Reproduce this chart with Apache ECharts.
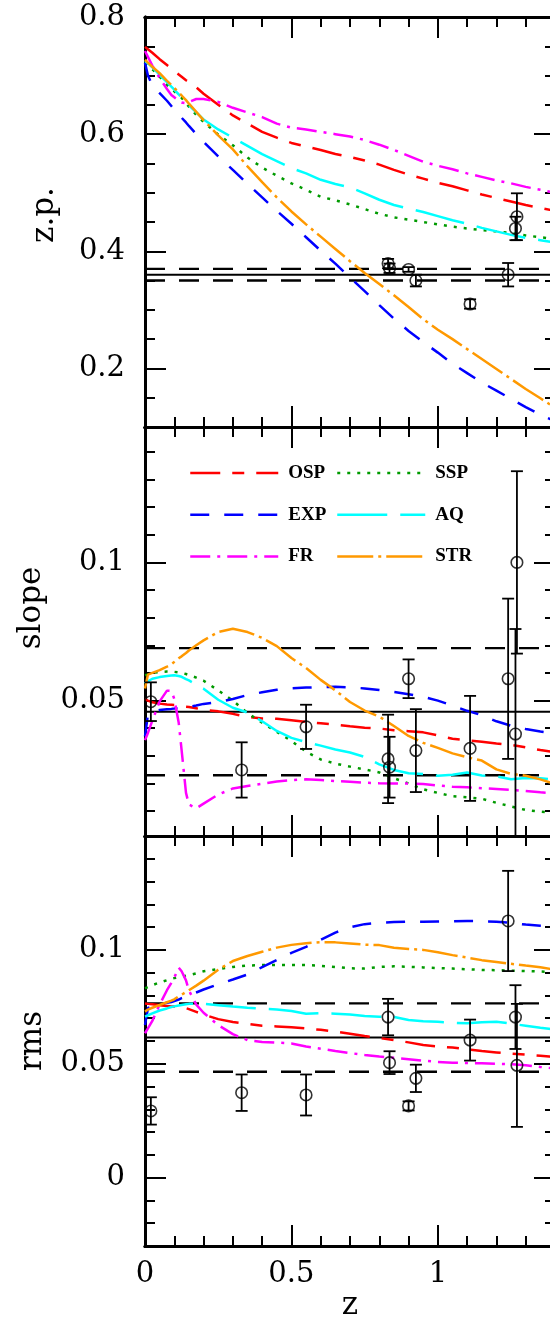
<!DOCTYPE html>
<html>
<head>
<meta charset="utf-8">
<script src="https://cdn.jsdelivr.net/npm/echarts@6/dist/echarts.min.js"></script>
<style>
  html, body { margin: 0; padding: 0; overflow: hidden; background: #fff; width: 550px; height: 1323px; }
  #chart { width: 560px; height: 1323px; }
</style>
</head>
<body>
<div id="chart"></div>
<script>
// Redshift sampling shared by all model curves
const zGrid = [0, 0.01, 0.025, 0.05, 0.075, 0.09, 0.1, 0.115, 0.125, 0.14, 0.15, 0.175, 0.2,
  0.25, 0.3, 0.35, 0.4, 0.45, 0.5, 0.55, 0.6, 0.65, 0.7, 0.75, 0.8, 0.85, 0.9, 0.95, 1.0,
  1.05, 1.1, 1.15, 1.2, 1.25, 1.3, 1.35, 1.4];

// Zero point of the relation, per model
const zpOSP = [0.749, 0.745, 0.739, 0.728, 0.718, 0.712, 0.708, 0.702, 0.698, 0.692, 0.689, 0.680, 0.669, 0.650, 0.632, 0.618, 0.604, 0.594, 0.585, 0.579, 0.573, 0.566, 0.561, 0.555, 0.548, 0.539, 0.531, 0.524, 0.517, 0.511, 0.504, 0.497, 0.491, 0.485, 0.479, 0.474, 0.469];
const zpEXP = [0.722, 0.700, 0.683, 0.670, 0.657, 0.648, 0.642, 0.634, 0.628, 0.620, 0.614, 0.600, 0.587, 0.562, 0.539, 0.515, 0.492, 0.469, 0.447, 0.424, 0.401, 0.379, 0.355, 0.332, 0.308, 0.285, 0.264, 0.245, 0.227, 0.208, 0.192, 0.176, 0.162, 0.148, 0.134, 0.121, 0.110];
const zpFR  = [0.742, 0.732, 0.717, 0.696, 0.677, 0.667, 0.663, 0.657, 0.654, 0.653, 0.655, 0.660, 0.660, 0.655, 0.645, 0.637, 0.629, 0.618, 0.611, 0.608, 0.604, 0.600, 0.596, 0.590, 0.582, 0.573, 0.563, 0.553, 0.546, 0.540, 0.533, 0.527, 0.521, 0.516, 0.510, 0.505, 0.500];
const zpSSP = [0.722, 0.717, 0.711, 0.698, 0.684, 0.677, 0.673, 0.666, 0.662, 0.653, 0.647, 0.633, 0.621, 0.599, 0.581, 0.560, 0.543, 0.529, 0.516, 0.505, 0.493, 0.487, 0.480, 0.472, 0.464, 0.458, 0.454, 0.450, 0.446, 0.442, 0.439, 0.436, 0.434, 0.431, 0.427, 0.424, 0.421];
const zpAQ  = [0.725, 0.721, 0.714, 0.701, 0.689, 0.681, 0.676, 0.668, 0.662, 0.654, 0.649, 0.637, 0.625, 0.608, 0.594, 0.580, 0.566, 0.554, 0.542, 0.533, 0.522, 0.515, 0.509, 0.499, 0.488, 0.479, 0.473, 0.467, 0.460, 0.453, 0.447, 0.440, 0.434, 0.428, 0.423, 0.419, 0.415];
const zpSTR = [0.727, 0.722, 0.715, 0.704, 0.691, 0.684, 0.679, 0.671, 0.666, 0.658, 0.652, 0.638, 0.624, 0.598, 0.574, 0.545, 0.518, 0.492, 0.468, 0.446, 0.425, 0.404, 0.383, 0.363, 0.344, 0.325, 0.305, 0.284, 0.266, 0.250, 0.233, 0.216, 0.199, 0.182, 0.165, 0.149, 0.133];

// Slope of the relation, per model
const slopeOSP = [0.0505, 0.0500, 0.0494, 0.0489, 0.0486, 0.0485, 0.0484, 0.0482, 0.0480, 0.0478, 0.0477, 0.0472, 0.0467, 0.0461, 0.0452, 0.0441, 0.0435, 0.0434, 0.0429, 0.0423, 0.0418, 0.0413, 0.0407, 0.0402, 0.0399, 0.0393, 0.0389, 0.0385, 0.0374, 0.0362, 0.0356, 0.0351, 0.0345, 0.0340, 0.0331, 0.0321, 0.0313];
const slopeEXP = [0.0370, 0.0450, 0.0460, 0.0466, 0.0469, 0.0470, 0.0471, 0.0473, 0.0474, 0.0476, 0.0477, 0.0482, 0.0488, 0.0494, 0.0506, 0.0520, 0.0530, 0.0539, 0.0544, 0.0547, 0.0549, 0.0550, 0.0548, 0.0544, 0.0538, 0.0531, 0.0523, 0.0514, 0.0500, 0.0482, 0.0463, 0.0447, 0.0425, 0.0409, 0.0397, 0.0388, 0.0381];
const slopeFR  = [0.0357, 0.0383, 0.0427, 0.0497, 0.0536, 0.0535, 0.0506, 0.0421, 0.0321, 0.0166, 0.0124, 0.0110, 0.0127, 0.0160, 0.0182, 0.0191, 0.0199, 0.0207, 0.0212, 0.0215, 0.0213, 0.0209, 0.0206, 0.0203, 0.0201, 0.0200, 0.0200, 0.0198, 0.0193, 0.0188, 0.0186, 0.0183, 0.0180, 0.0177, 0.0173, 0.0168, 0.0165];
const slopeSSP = [0.0592, 0.0595, 0.0600, 0.0604, 0.0605, 0.0605, 0.0604, 0.0602, 0.0600, 0.0596, 0.0593, 0.0583, 0.0572, 0.0537, 0.0500, 0.0455, 0.0420, 0.0387, 0.0354, 0.0315, 0.0287, 0.0272, 0.0261, 0.0251, 0.0240, 0.0219, 0.0200, 0.0179, 0.0166, 0.0154, 0.0150, 0.0145, 0.0130, 0.0117, 0.0104, 0.0098, 0.0093];
const slopeAQ  = [0.0562, 0.0570, 0.0579, 0.0585, 0.0589, 0.0591, 0.0592, 0.0589, 0.0586, 0.0578, 0.0573, 0.0558, 0.0543, 0.0503, 0.0474, 0.0457, 0.0425, 0.0390, 0.0365, 0.0350, 0.0337, 0.0323, 0.0312, 0.0296, 0.0269, 0.0249, 0.0237, 0.0234, 0.0228, 0.0232, 0.0240, 0.0229, 0.0226, 0.0215, 0.0220, 0.0219, 0.0213];
const slopeSTR = [0.0544, 0.0594, 0.0600, 0.0610, 0.0623, 0.0631, 0.0640, 0.0653, 0.0660, 0.0672, 0.0681, 0.0700, 0.0718, 0.0748, 0.0760, 0.0748, 0.0727, 0.0697, 0.0654, 0.0618, 0.0575, 0.0537, 0.0495, 0.0464, 0.0442, 0.0408, 0.0372, 0.0347, 0.0329, 0.0309, 0.0295, 0.0283, 0.0251, 0.0235, 0.0228, 0.0215, 0.0198];

// Scatter (rms) about the relation, per model
const rmsOSP = [0.0765, 0.0763, 0.0761, 0.0757, 0.0754, 0.0752, 0.0751, 0.0749, 0.0747, 0.0744, 0.0740, 0.0728, 0.0716, 0.0696, 0.0683, 0.0675, 0.0667, 0.0664, 0.0660, 0.0655, 0.0649, 0.0642, 0.0632, 0.0622, 0.0613, 0.0604, 0.0594, 0.0582, 0.0576, 0.0571, 0.0564, 0.0556, 0.0550, 0.0544, 0.0540, 0.0535, 0.0530];
const rmsEXP = [0.0670, 0.0745, 0.0752, 0.0761, 0.0768, 0.0771, 0.0775, 0.0782, 0.0788, 0.0795, 0.0800, 0.0813, 0.0826, 0.0849, 0.0870, 0.0892, 0.0924, 0.0956, 0.0987, 0.1013, 0.1044, 0.1076, 0.1099, 0.1113, 0.1119, 0.1122, 0.1124, 0.1124, 0.1125, 0.1126, 0.1127, 0.1126, 0.1124, 0.1119, 0.1111, 0.1106, 0.1101];
const rmsFR  = [0.0634, 0.0655, 0.0688, 0.0760, 0.0823, 0.0855, 0.0879, 0.0922, 0.0906, 0.0866, 0.0822, 0.0760, 0.0724, 0.0670, 0.0630, 0.0604, 0.0596, 0.0593, 0.0589, 0.0576, 0.0566, 0.0556, 0.0547, 0.0539, 0.0532, 0.0526, 0.0520, 0.0514, 0.0508, 0.0505, 0.0503, 0.0502, 0.0500, 0.0498, 0.0494, 0.0486, 0.0479];
const rmsSSP = [0.0831, 0.0837, 0.0845, 0.0857, 0.0867, 0.0873, 0.0876, 0.0880, 0.0883, 0.0887, 0.0889, 0.0897, 0.0906, 0.0916, 0.0925, 0.0931, 0.0934, 0.0934, 0.0934, 0.0934, 0.0930, 0.0925, 0.0919, 0.0918, 0.0925, 0.0928, 0.0926, 0.0923, 0.0920, 0.0918, 0.0915, 0.0912, 0.0911, 0.0909, 0.0907, 0.0905, 0.0903];
const rmsAQ  = [0.0707, 0.0713, 0.0721, 0.0734, 0.0743, 0.0749, 0.0752, 0.0756, 0.0758, 0.0761, 0.0763, 0.0763, 0.0763, 0.0757, 0.0751, 0.0746, 0.0742, 0.0738, 0.0732, 0.0720, 0.0722, 0.0720, 0.0716, 0.0710, 0.0707, 0.0706, 0.0692, 0.0687, 0.0684, 0.0680, 0.0678, 0.0682, 0.0685, 0.0676, 0.0667, 0.0658, 0.0650];
const rmsSTR = [0.0729, 0.0738, 0.0746, 0.0758, 0.0770, 0.0777, 0.0783, 0.0796, 0.0803, 0.0815, 0.0823, 0.0843, 0.0865, 0.0913, 0.0951, 0.0973, 0.0992, 0.1010, 0.1022, 0.1029, 0.1034, 0.1033, 0.1028, 0.1023, 0.1021, 0.1009, 0.1004, 0.1000, 0.0990, 0.0977, 0.0966, 0.0955, 0.0947, 0.0939, 0.0931, 0.0924, 0.0913];

// Observed clusters: redshift, measured values and 1-sigma errors
const zObs     = [0.02, 0.33, 0.55, 0.83, 0.835, 0.90, 0.925, 1.11, 1.24, 1.265, 1.27];
const zpObs    = [null, null, null, 0.379, 0.371, 0.369, 0.350, 0.310, 0.360, 0.439, 0.459];
const zpErr    = [null, null, null, 0.008, 0.008, 0.004, 0.010, 0.008, 0.020, 0.020, 0.040];
const slopeObs = [0.0496, 0.0249, 0.0405, 0.0289, 0.0259, 0.0579, 0.0319, 0.0327, 0.0579, 0.0379, 0.1000];
const slopeErr = [0.007, 0.010, 0.008, 0.016, 0.011, 0.007, 0.015, 0.019, 0.029, 0.038, 0.033];
const rmsObs   = [0.0293, 0.0373, 0.0363, 0.0705, 0.0505, 0.0315, 0.0436, 0.0604, 0.1127, 0.0705, 0.0493];
const rmsErr   = [0.006, 0.008, 0.009, 0.008, 0.005, 0.002, 0.006, 0.009, 0.022, 0.014, 0.027];

// Local (z = 0) reference: mean and its band
const zpRef    = { mean: 0.36,   lo: 0.35,   hi: 0.37 };
const slopeRef = { mean: 0.046,  lo: 0.023,  hi: 0.069 };
const rmsRef   = { mean: 0.0615, lo: 0.0465, hi: 0.0765 };

// Axis extents and tick values
const zMin = 0, zMax = 1.4;
const zMajorTicks = [0, 0.5, 1];
const zMinorTicks = [0.1, 0.2, 0.3, 0.4, 0.6, 0.7, 0.8, 0.9, 1.1, 1.2, 1.3];
const panelNames = ['z.p.', 'slope', 'rms'];
const yRanges = [[0.1, 0.8], [0.001, 0.149], [-0.03, 0.15]];
const yMajorTicks = [[0.2, 0.4, 0.6, 0.8], [0.05, 0.1], [0, 0.05, 0.1]];
const yMinorTicks = [
  [0.15, 0.25, 0.3, 0.35, 0.45, 0.5, 0.55, 0.65, 0.7, 0.75],
  [0.01, 0.02, 0.03, 0.04, 0.06, 0.07, 0.08, 0.09, 0.11, 0.12, 0.13, 0.14],
  [-0.02, -0.01, 0.01, 0.02, 0.03, 0.04, 0.06, 0.07, 0.08, 0.09, 0.11, 0.12, 0.13, 0.14]
];

// Model styles
const models = [
  { name: 'OSP', color: '#ff0000', dash: [30, 12, 12, 12], vals: [zpOSP, slopeOSP, rmsOSP] },
  { name: 'SSP', color: '#009a00', dash: [3, 7],           vals: [zpSSP, slopeSSP, rmsSSP] },
  { name: 'EXP', color: '#0000ff', dash: [19, 15],         vals: [zpEXP, slopeEXP, rmsEXP] },
  { name: 'AQ',  color: '#00ffff', dash: [50, 13],         vals: [zpAQ, slopeAQ, rmsAQ] },
  { name: 'FR',  color: '#ff00ff', dash: [20, 7, 3, 7],    vals: [zpFR, slopeFR, rmsFR] },
  { name: 'STR', color: '#ff9900', dash: [36, 5, 3, 5],    vals: [zpSTR, slopeSTR, rmsSTR] }
];
const obs = [[zpObs, zpErr], [slopeObs, slopeErr], [rmsObs, rmsErr]];
const refs = [zpRef, slopeRef, rmsRef];

const FONT = 'DejaVu Serif';
const grids = [
  { left: 145, top: 17,  width: 410, height: 410 },
  { left: 145, top: 427, width: 410, height: 409 },
  { left: 145, top: 836, width: 410, height: 410 }
];

function makeAxis(g, pos, range, ticks, len, labels, margin) {
  return {
    type: 'value', gridIndex: g, position: pos, min: range[0], max: range[1],
    splitLine: { show: false },
    axisLine: { show: true, onZero: false, lineStyle: { color: '#000', width: 3 } },
    axisTick: { show: true, inside: true, length: len, customValues: ticks,
      lineStyle: { color: '#000', width: 2 } },
    axisLabel: labels ? {
      show: true, customValues: labels, margin: margin,
      fontFamily: FONT, fontSize: 29, color: '#000',
      formatter: v => String(+v.toFixed(4))
    } : { show: false }
  };
}

const xAxes = [], yAxes = [], series = [];
grids.forEach((gr, g) => {
  const xr = [zMin, zMax];
  xAxes.push(makeAxis(g, 'bottom', xr, zMajorTicks, 21, g === 2 ? zMajorTicks : null, 14));
  xAxes.push(makeAxis(g, 'bottom', xr, zMinorTicks, 10, null));
  xAxes.push(makeAxis(g, 'top', xr, zMajorTicks, 21, null));
  xAxes.push(makeAxis(g, 'top', xr, zMinorTicks, 10, null));
  yAxes.push(makeAxis(g, 'left', yRanges[g], yMajorTicks[g], 21, yMajorTicks[g], 20));
  yAxes.push(makeAxis(g, 'left', yRanges[g], yMinorTicks[g], 10, null));
  yAxes.push(makeAxis(g, 'right', yRanges[g], yMajorTicks[g], 21, null));
  yAxes.push(makeAxis(g, 'right', yRanges[g], yMinorTicks[g], 10, null));

  const ax = { xAxisIndex: 4 * g, yAxisIndex: 4 * g };
  const ref = refs[g];

  // reference level and band
  [['mean', 'solid', 2], ['lo', [20, 14], 2.4], ['hi', [20, 14], 2.4]].forEach(([k, type, w]) => {
    series.push(Object.assign({
      type: 'line', silent: true, symbol: 'none', z: 2,
      data: [[zMin, ref[k]], [zMax, ref[k]]],
      lineStyle: { color: '#000', width: w, type: type }
    }, ax));
  });

  // model curves
  models.forEach(m => {
    series.push(Object.assign({
      type: 'line', name: m.name, symbol: 'none', z: 3, smooth: false,
      data: zGrid.map((z, i) => [z, m.vals[g][i]]),
      lineStyle: { color: m.color, width: 2.5, type: m.dash },
      itemStyle: { color: m.color }
    }, ax));
  });

  // observed points with error bars
  const [vals, errs] = obs[g];
  const pts = [], bars = [];
  zObs.forEach((z, i) => {
    if (vals[i] == null) return;
    pts.push([z, vals[i]]);
    bars.push([z, vals[i] - errs[i], vals[i] + errs[i]]);
  });
  series.push(Object.assign({
    type: 'custom', z: 5, clip: true, silent: true,
    data: bars,
    renderItem: (params, api) => {
      const lo = api.coord([api.value(0), api.value(1)]);
      const hi = api.coord([api.value(0), api.value(2)]);
      const w = 6;
      const style = { stroke: '#000', lineWidth: 1.8 };
      return { type: 'group', children: [
        { type: 'line', shape: { x1: lo[0], y1: lo[1], x2: hi[0], y2: hi[1] }, style },
        { type: 'line', shape: { x1: lo[0] - w, y1: lo[1], x2: lo[0] + w, y2: lo[1] }, style },
        { type: 'line', shape: { x1: hi[0] - w, y1: hi[1], x2: hi[0] + w, y2: hi[1] }, style }
      ] };
    }
  }, ax));
  series.push(Object.assign({
    type: 'scatter', z: 6, silent: true, symbol: 'circle', symbolSize: 11.5,
    data: pts,
    itemStyle: { color: 'rgba(0,0,0,0)', borderColor: '#000', borderWidth: 1.6 }
  }, ax));
});

const legendText = { fontFamily: 'Liberation Serif', fontWeight: 'bold', fontSize: 19,
  color: '#000', lineHeight: 20, padding: [0, 0, 0, 5] };
const legendBase = {
  orient: 'vertical', top: 463, padding: 0, itemWidth: 88, itemHeight: 14, itemGap: 21.7,
  selectedMode: false, textStyle: legendText,
  itemStyle: { opacity: 0 }, lineStyle: { width: 2.5 }
};

const nameStyle = { fontFamily: FONT, fontSize: 31, fill: '#000',
  textAlign: 'center', textVerticalAlign: 'middle', align: 'center', verticalAlign: 'middle' };

const chart = echarts.init(document.getElementById('chart'), null, { renderer: 'canvas' });
chart.setOption({
  animation: false,
  backgroundColor: '#fff',
  grid: grids,
  xAxis: xAxes,
  yAxis: yAxes,
  legend: [
    Object.assign({ left: 189, data: ['OSP', 'EXP', 'FR'] }, legendBase),
    Object.assign({ left: 336, data: ['SSP', 'AQ', 'STR'] }, legendBase)
  ],
  graphic: [
    { type: 'text', x: 45, y: 215, rotation: Math.PI / 2, style: Object.assign({ text: panelNames[0] }, nameStyle) },
    { type: 'text', x: 32, y: 608, rotation: Math.PI / 2, style: Object.assign({ text: panelNames[1] }, nameStyle) },
    { type: 'text', x: 33, y: 1041, rotation: Math.PI / 2, style: Object.assign({ text: panelNames[2] }, nameStyle) },
    { type: 'text', x: 350, y: 1306, style: Object.assign({ text: 'z' }, nameStyle) }
  ],
  series: series
});
</script>
</body>
</html>
